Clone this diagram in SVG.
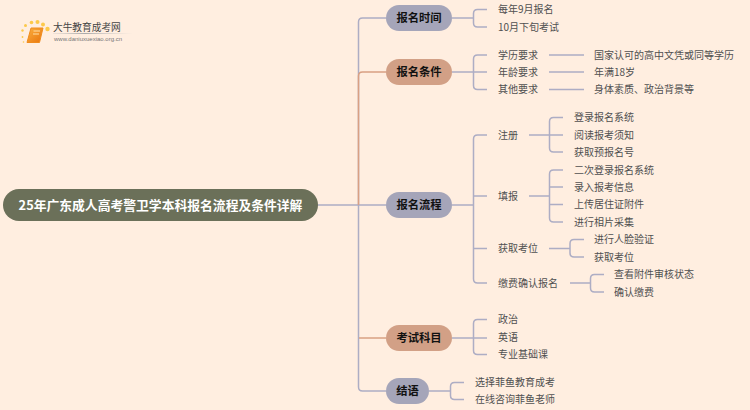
<svg xmlns="http://www.w3.org/2000/svg" width="750" height="410" viewBox="0 0 750 410">
<defs>
<linearGradient id="rule" x1="0" x2="1" y1="0" y2="0"><stop offset="0" stop-color="#bbb" stop-opacity="0.2"/><stop offset="0.4" stop-color="#aaa"/><stop offset="1" stop-color="#ccc" stop-opacity="0"/></linearGradient>
<linearGradient id="book" x1="0" x2="1" y1="0" y2="1"><stop offset="0" stop-color="#fbb040"/><stop offset="1" stop-color="#e8740c"/></linearGradient>
</defs>
<style>
text{font-family:"Noto Sans CJK SC","Noto Sans",sans-serif;dominant-baseline:central;transform:translateY(-1px)}
.l{font-size:10px;fill:#505050}
.m{font-size:11.3px;font-weight:700;fill:#111;text-anchor:middle}
.c{fill:none;stroke:#adadc4;stroke-width:1.5}
.o{fill:none;stroke:#d9a083;stroke-width:1.5}
.p{fill:#a5a5b9}
.q{fill:#d2a086}
</style>
<rect width="750" height="410" fill="#ffeee0"/>
<g id="connectors">
<path class="c" d="M318 205H386M358.500 205V22Q358.500 18 362.500 18H386M358.500 205V387Q358.500 391 362.500 391H386"/>
<path class="o" d="M358.500 205V76Q358.500 72 362.500 72H386"/>
<path class="o" d="M359 338H386"/>
<path class="c" d="M452 18H473.500M487 9.500H477.500Q473.500 9.500 473.500 13.500V23Q473.500 27 477.500 27H487"/>
<path class="c" d="M452 72H487M487 55H477.500Q473.500 55 473.500 59V85.500Q473.500 89.500 477.500 89.500H487"/>
<path class="c" d="M549 55H584M549 72H584M549 89.500H584"/>
<path class="c" d="M452 205H473.500M487 135H477.500Q473.500 135 473.500 139V279Q473.500 283 477.500 283H487M473.500 196H487M473.500 248.500H487"/>
<path class="c" d="M529 135H563M563 117.500H553.500Q549.500 117.500 549.500 121.500V148Q549.500 152 553.500 152H563"/>
<path class="c" d="M529 196H549.500M563 170H553.500Q549.500 170 549.500 174V218Q549.500 222 553.500 222H563M549.500 187H563M549.500 204.500H563"/>
<path class="c" d="M549 248.500H570M584 239.500H574Q570 239.500 570 243.500V253Q570 257 574 257H584"/>
<path class="c" d="M570 283H590.500M604 274.500H594.500Q590.500 274.500 590.500 278.500V288Q590.500 292 594.500 292H604"/>
<path class="c" d="M452 338H487M487 319.500H477.500Q473.500 319.500 473.500 323.500V350.500Q473.500 354.500 477.500 354.500H487"/>
<path class="c" d="M429 391H450.500M464 382.500H454.500Q450.500 382.500 450.500 386.500V395.500Q450.500 399.500 454.500 399.500H464"/>
</g>
<g id="logo">
<g fill="#fcc94a"><circle cx="22.500" cy="30.500" r="1.200"/><circle cx="25.500" cy="25.500" r="1.500"/><circle cx="31.500" cy="22.500" r="1.800"/><circle cx="37.500" cy="22" r="2"/><circle cx="43" cy="24.500" r="2"/><circle cx="47.500" cy="29" r="2.200"/><circle cx="22.500" cy="37" r="0.900"/><circle cx="23.500" cy="42" r="0.800"/></g>
<path d="M31 28H43L39.500 42.500H27Z" fill="url(#book)" stroke="#f08c1e" stroke-width="1" stroke-linejoin="round"/>
<path d="M33.500 31H40M33 34H39" stroke="#ffe0a8" stroke-width="1" fill="none"/>
<text x="53" y="28" style="font-size:9.700px;fill:#444">大牛教育成考网</text>
<rect x="53" y="33" width="80" height="1" fill="url(#rule)"/>
<text x="54" y="39.500" style="font-family:'Liberation Sans',sans-serif;font-size:6px;fill:#777">www.daniuxuexiao.org.cn</text>
</g>
<g id="root"><rect x="3" y="189" width="315" height="32" rx="16" fill="#6b7059"/><text x="160.500" y="205" text-anchor="middle" style="font-size:12.800px;font-weight:700;fill:#fff">25年广东成人高考警卫学本科报名流程及条件详解</text></g>
<g id="n-time"><rect class="p" x="386" y="5" width="66" height="26" rx="13"/><text class="m" x="419" y="18">报名时间</text></g>
<g id="n-cond"><rect class="q" x="386" y="59" width="66" height="26" rx="13"/><text class="m" x="419" y="72">报名条件</text></g>
<g id="n-flow"><rect class="p" x="386" y="192" width="66" height="26" rx="13"/><text class="m" x="419" y="205">报名流程</text></g>
<g id="n-subj"><rect class="q" x="386" y="325" width="66" height="26" rx="13"/><text class="m" x="419" y="338">考试科目</text></g>
<g id="n-end"><rect class="p" x="386" y="378" width="43" height="26" rx="13"/><text class="m" x="407.500" y="391">结语</text></g>
<g id="t1"><text class="l" x="498" y="9.500">每年9月报名</text></g>
<g id="t2"><text class="l" x="498" y="27">10月下旬考试</text></g>
<g id="c1"><text class="l" x="498" y="55">学历要求</text></g>
<g id="c1a"><text class="l" x="594" y="55">国家认可的高中文凭或同等学历</text></g>
<g id="c2"><text class="l" x="498" y="72">年龄要求</text></g>
<g id="c2a"><text class="l" x="594" y="72">年满18岁</text></g>
<g id="c3"><text class="l" x="498" y="89.500">其他要求</text></g>
<g id="c3a"><text class="l" x="594" y="89.500">身体素质、政治背景等</text></g>
<g id="f1"><text class="l" x="498" y="135">注册</text></g>
<g id="f1a"><text class="l" x="574" y="117.500">登录报名系统</text></g>
<g id="f1b"><text class="l" x="574" y="135">阅读报考须知</text></g>
<g id="f1c"><text class="l" x="574" y="152">获取预报名号</text></g>
<g id="f2"><text class="l" x="498" y="196">填报</text></g>
<g id="f2a"><text class="l" x="574" y="170">二次登录报名系统</text></g>
<g id="f2b"><text class="l" x="574" y="187">录入报考信息</text></g>
<g id="f2c"><text class="l" x="574" y="204.500">上传居住证附件</text></g>
<g id="f2d"><text class="l" x="574" y="222">进行相片采集</text></g>
<g id="f3"><text class="l" x="498" y="248.500">获取考位</text></g>
<g id="f3a"><text class="l" x="594" y="239.500">进行人脸验证</text></g>
<g id="f3b"><text class="l" x="594" y="257">获取考位</text></g>
<g id="f4"><text class="l" x="498" y="283">缴费确认报名</text></g>
<g id="f4a"><text class="l" x="614" y="274.500">查看附件审核状态</text></g>
<g id="f4b"><text class="l" x="614" y="292">确认缴费</text></g>
<g id="s1"><text class="l" x="498" y="319.500">政治</text></g>
<g id="s2"><text class="l" x="498" y="337">英语</text></g>
<g id="s3"><text class="l" x="498" y="354.500">专业基础课</text></g>
<g id="e1"><text class="l" x="475" y="382.500">选择菲鱼教育成考</text></g>
<g id="e2"><text class="l" x="475" y="399.500">在线咨询菲鱼老师</text></g>
</svg>
